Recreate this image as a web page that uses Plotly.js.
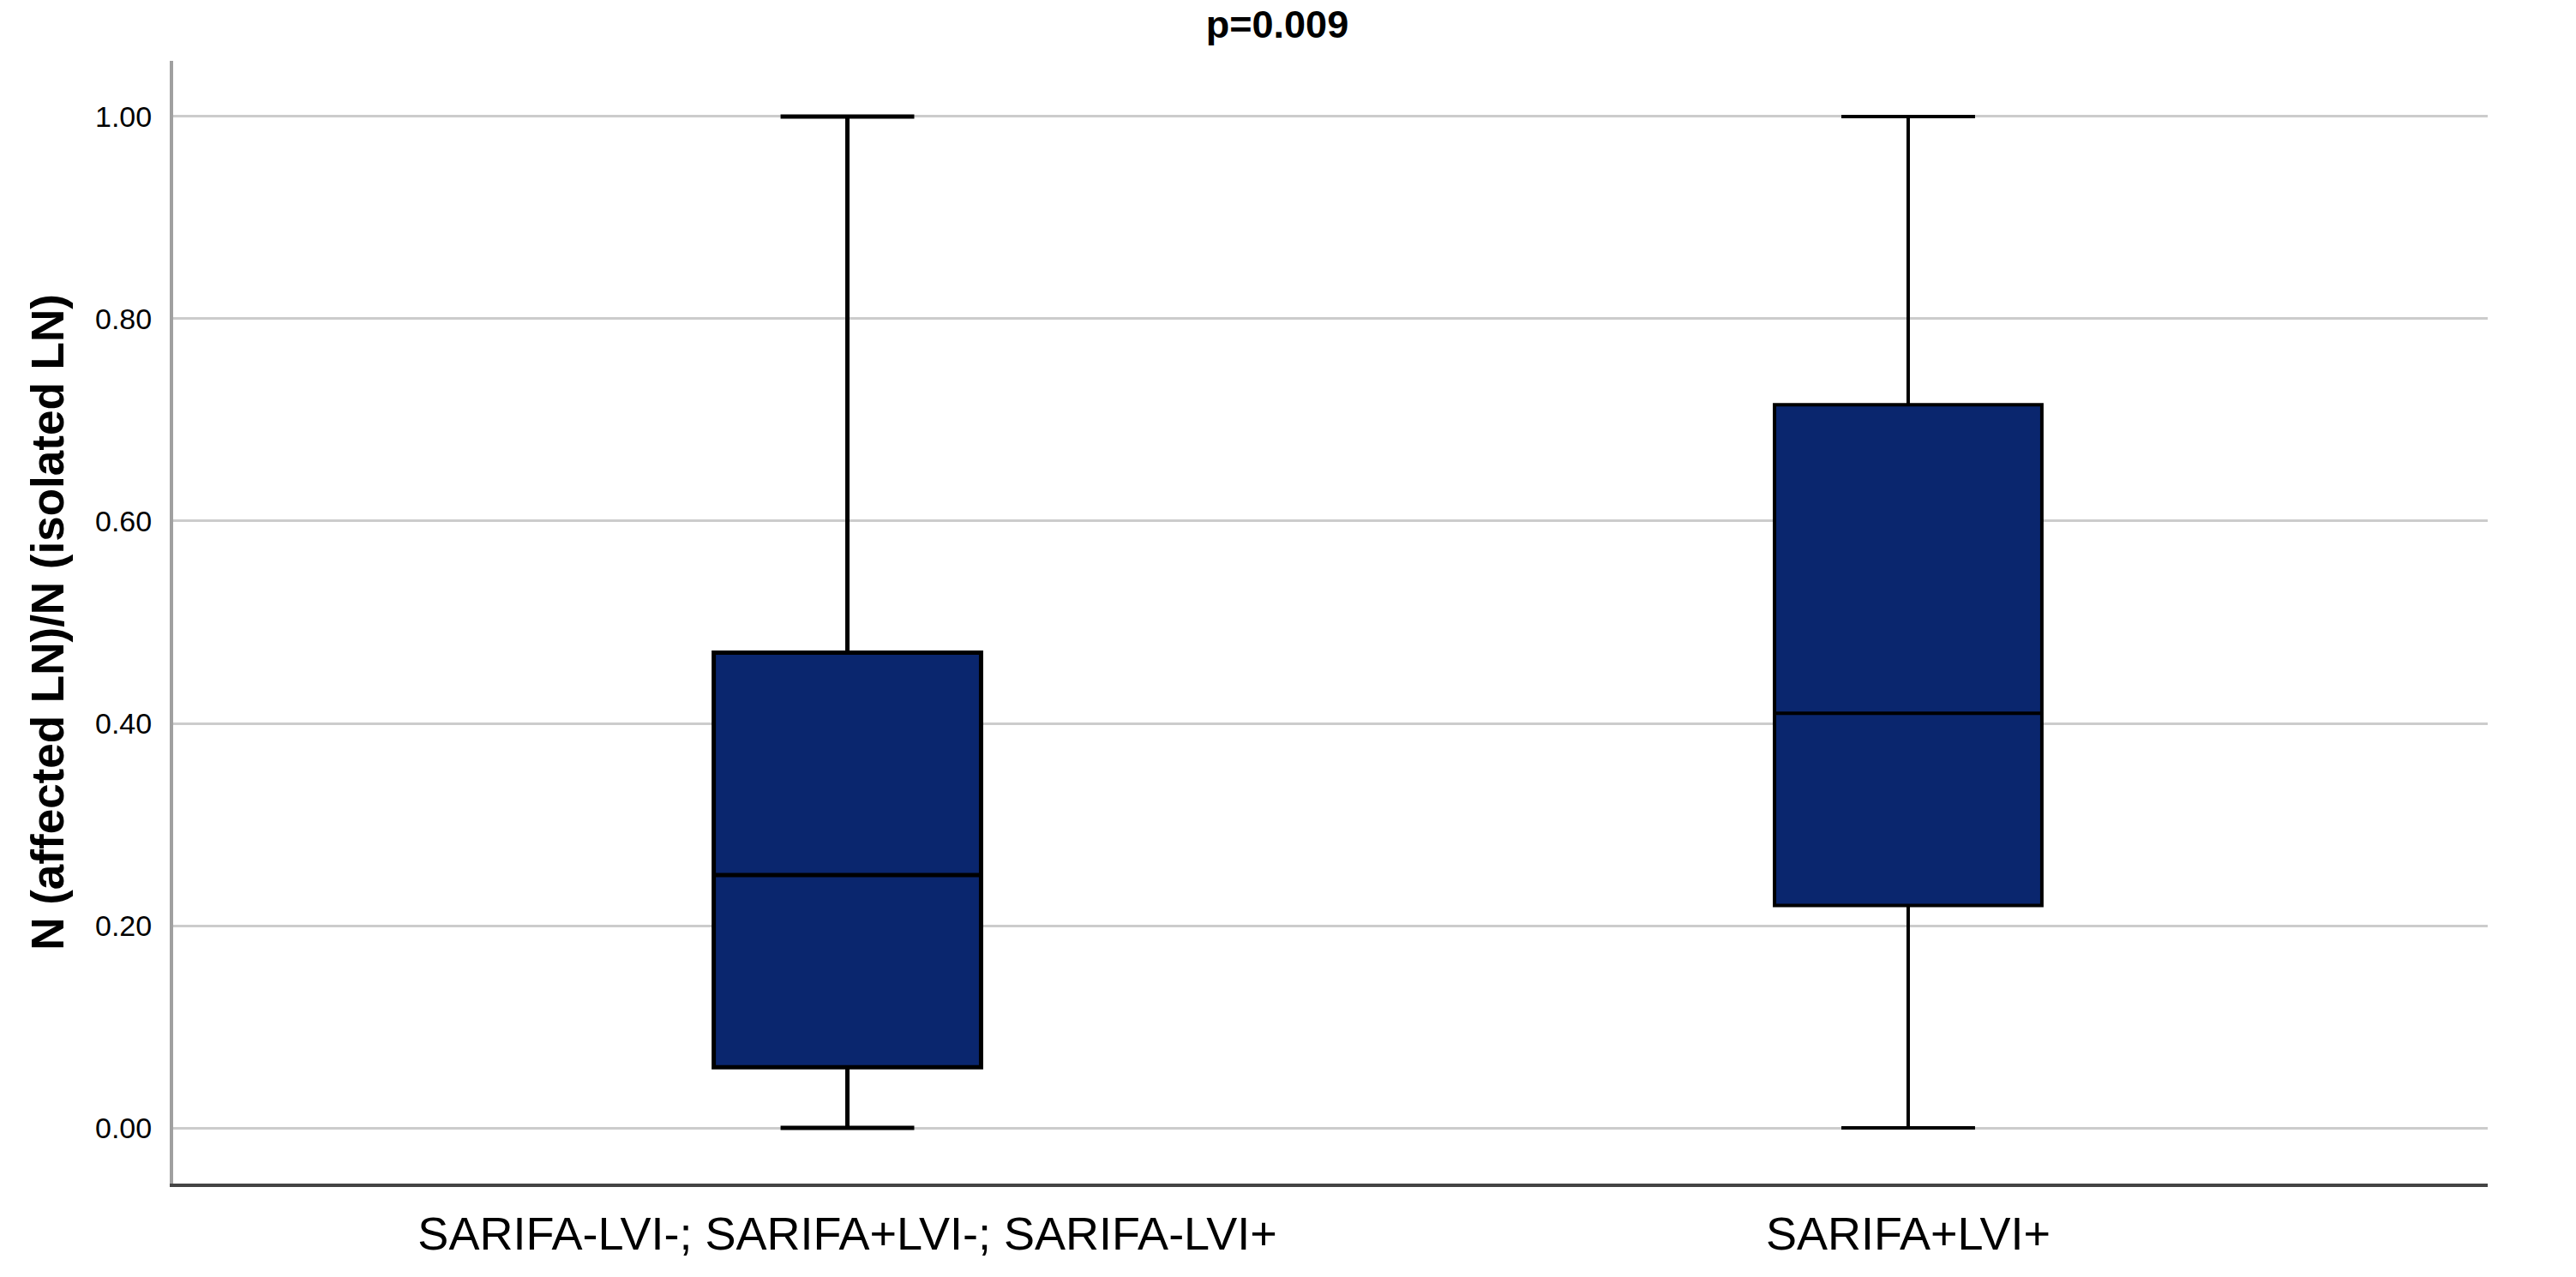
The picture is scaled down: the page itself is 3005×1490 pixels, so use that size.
<!DOCTYPE html>
<html>
<head>
<meta charset="utf-8">
<script src="https://cdn.plot.ly/plotly-3.0.1.min.js"></script>
<style>
  html, body { margin: 0; padding: 0; background: #ffffff; }
  #chart { width: 3005px; height: 1490px; }
</style>
</head>
<body>
<div id="chart"></div>
<script>
// ---- Data ----
const categories = ["SARIFA-LVI-; SARIFA+LVI-; SARIFA-LVI+", "SARIFA+LVI+"];
const lowerFence = [0.00, 0.00];
const q1Values = [0.06, 0.22];
const medianValues = [0.25, 0.41];
const q3Values = [0.47, 0.715];
const upperFence = [1.00, 1.00];
const yTickValues = [0.0, 0.2, 0.4, 0.6, 0.8, 1.0];
const yTickLabels = ["0.00", "0.20", "0.40", "0.60", "0.80", "1.00"];
const titleText = "p=0.009";
const yTitleText = "N (affected LN)/N (isolated LN)";

const boxLineWidths = [5, 4];

const traces = categories.map((cat, i) => ({
  type: "box",
  x: [cat],
  q1: [q1Values[i]],
  median: [medianValues[i]],
  q3: [q3Values[i]],
  lowerfence: [lowerFence[i]],
  upperfence: [upperFence[i]],
  width: 0.252,
  whiskerwidth: 0.5,
  fillcolor: "#0a266e",
  line: { color: "#000000", width: boxLineWidths[i] },
  boxpoints: false,
  showlegend: false,
  hoverinfo: "skip"
}));

const layout = {
  width: 3005,
  height: 1490,
  paper_bgcolor: "#ffffff",
  plot_bgcolor: "#ffffff",
  margin: { l: 202, r: 103, t: 71, b: 109, pad: 0 },
  showlegend: false,
  title: {
    text: titleText,
    font: { family: "Liberation Sans, Arial, sans-serif", size: 45, color: "#000000", weight: "bold" },
    xref: "container",
    x: 1490 / 3005,
    xanchor: "center",
    yref: "container",
    y: 1 - 12 / 1490,
    yanchor: "top"
  },
  xaxis: {
    type: "category",
    range: [-0.6356, 1.5463],
    showgrid: false,
    zeroline: false,
    showline: true,
    linecolor: "#444444",
    linewidth: 4,
    ticks: "",
    tickfont: { family: "Liberation Sans, Arial, sans-serif", size: 54, color: "#000000" },
    ticklabelstandoff: 8,
    fixedrange: true
  },
  yaxis: {
    range: [-0.055, 1.055],
    tickvals: yTickValues,
    ticktext: yTickLabels,
    showgrid: true,
    gridcolor: "#cccccc",
    gridwidth: 3,
    zeroline: false,
    showline: true,
    linecolor: "#a0a0a0",
    linewidth: 4,
    ticks: "",
    tickfont: { family: "Liberation Sans, Arial, sans-serif", size: 34, color: "#000000" },
    ticklabelstandoff: 14,
    title: {
      text: yTitleText,
      font: { family: "Liberation Sans, Arial, sans-serif", size: 53, color: "#000000", weight: "bold" },
      standoff: 20
    },
    fixedrange: true
  }
};

Plotly.newPlot("chart", traces, layout, { displayModeBar: false, staticPlot: true });
</script>
</body>
</html>
